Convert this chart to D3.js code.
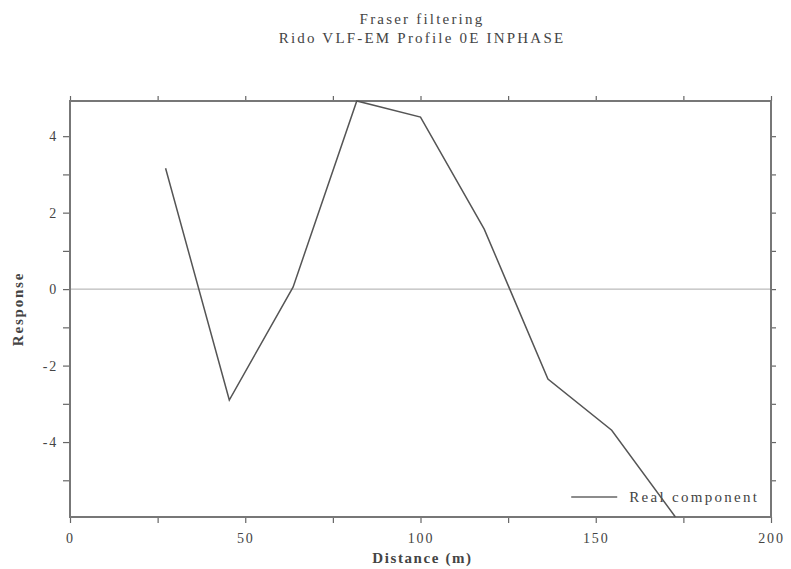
<!DOCTYPE html>
<html>
<head>
<meta charset="utf-8">
<script src="https://cdn.jsdelivr.net/npm/d3@7"></script>
<style>
  body { margin: 0; background: #fff; }
  text { font-family: "Liberation Serif", "DejaVu Serif", serif; fill: #444; }
</style>
</head>
<body>
<svg id="chart" width="791" height="569"></svg>
<script>
// station distances (m) and inphase response
const distance = [27.27, 45.45, 63.64, 81.82, 100, 118.18, 136.36, 154.55, 172.73];
const response = [3.16, -2.9, 0.05, 4.92, 4.5, 1.57, -2.35, -3.69, -5.96];
const xTicks = [0, 50, 100, 150, 200];
const yTicks = [-4, -2, 0, 2, 4];
const titleLines = ["Fraser filtering", "Rido VLF-EM Profile 0E INPHASE"];
const seriesName = "Real component";

const svg = d3.select("#chart");
const margin = { top: 101, right: 20, bottom: 52, left: 70 };
const width = +svg.attr("width");
const height = +svg.attr("height");
const innerWidth = width - margin.left - margin.right;
const innerHeight = height - margin.top - margin.bottom;

const g = svg.append("g")
  .attr("transform", `translate(${margin.left},${margin.top})`);

const x = d3.scaleLinear().domain([0, 200]).range([0, innerWidth]);
const y = d3.scaleLinear().domain(d3.extent(response)).range([innerHeight, 0]);

// title
svg.selectAll("text.title")
  .data(titleLines)
  .enter()
  .append("text")
  .attr("class", "title")
  .attr("x", 422)
  .attr("y", (d, i) => 24 + i * 19)
  .attr("text-anchor", "middle")
  .style("font-size", "15px")
  .style("letter-spacing", "2.2px")
  .attr("fill", "#555")
  .text(d => d);

// zero line
g.append("line")
  .attr("x1", 0).attr("x2", innerWidth)
  .attr("y1", y(0)).attr("y2", y(0))
  .attr("stroke", "#aaa")
  .attr("stroke-width", 1);

// axes: labelled ticks every 50 / 2, small ticks in between
const minorX = d3.range(0, 201, 25);
const minorY = d3.range(-5, 5, 1);

function styleAxis(sel) {
  sel.select(".domain").remove();
  sel.selectAll(".tick line").attr("stroke", "#666").attr("stroke-width", 1.2);
  sel.selectAll(".tick text")
    .style("font-size", "14px")
    .style("letter-spacing", "1.8px")
    .attr("fill", "#555");
  sel.selectAll(".tick text").filter(function () { return this.textContent === ""; }).remove();
}

g.append("g")
  .attr("transform", `translate(0,${innerHeight})`)
  .call(d3.axisBottom(x).tickValues(minorX).tickSize(6).tickPadding(10)
    .tickFormat(d => xTicks.includes(d) ? d : ""))
  .call(styleAxis);

g.append("g")
  .call(d3.axisTop(x).tickValues(minorX).tickSize(5).tickFormat(""))
  .call(styleAxis);

g.append("g")
  .call(d3.axisLeft(y).tickValues(minorY).tickSize(7).tickPadding(5)
    .tickFormat(d => yTicks.includes(d) ? d : ""))
  .call(styleAxis);

g.append("g")
  .attr("transform", `translate(${innerWidth},0)`)
  .call(d3.axisRight(y).tickValues(minorY).tickSize(5).tickFormat(""))
  .call(styleAxis);

// frame
g.append("rect")
  .attr("width", innerWidth)
  .attr("height", innerHeight)
  .attr("fill", "none")
  .attr("stroke", "#777")
  .attr("stroke-width", 2);

// legend
const legend = g.append("g")
  .attr("transform", `translate(${x(143)},${innerHeight - 20})`);
legend.append("line")
  .attr("x1", 0).attr("x2", 46)
  .attr("stroke", "#666").attr("stroke-width", 1.3);
legend.append("text")
  .attr("x", 58).attr("y", 5)
  .style("font-size", "15px")
  .style("letter-spacing", "2.3px")
  .text(seriesName);

// data line
const line = d3.line()
  .x((d, i) => x(distance[i]))
  .y(d => y(d));

g.append("path")
  .datum(response)
  .attr("d", line)
  .attr("fill", "none")
  .attr("stroke", "#555")
  .attr("stroke-width", 1.5);

// axis labels
svg.append("text")
  .attr("x", margin.left + innerWidth / 2 + 2)
  .attr("y", 563)
  .attr("text-anchor", "middle")
  .style("font-size", "15px")
  .style("font-weight", "bold")
  .style("letter-spacing", "1.6px")
  .attr("fill", "#555")
  .text("Distance (m)");

svg.append("text")
  .attr("transform", "translate(23,309) rotate(-90)")
  .attr("text-anchor", "middle")
  .style("font-size", "15px")
  .style("font-weight", "bold")
  .style("letter-spacing", "1.8px")
  .attr("fill", "#555")
  .text("Response");
</script>
</body>
</html>
